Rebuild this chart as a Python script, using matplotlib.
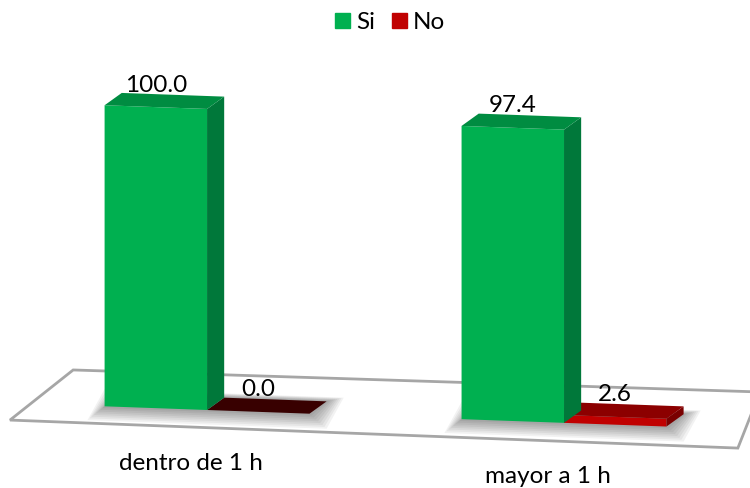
import matplotlib
matplotlib.use('Agg')
import matplotlib.pyplot as plt
import matplotlib.transforms as mtransforms
from matplotlib.patches import Polygon, Patch
import numpy as np

# datos del grafico
categorias = ['dentro de 1 h', 'mayor a 1 h']
series = ['Si', 'No']
si = [100.0, 97.4]
no = [0.0, 2.6]

plt.rcParams['font.family'] = ['Lato', 'DejaVu Sans']

fig = plt.figure(figsize=(7.5, 4.88), dpi=100)
ax = fig.add_axes([0, 0, 1, 1])
ax.axis('off')

# inclinacion del suelo (perspectiva aproximada)
pend = 0.036
corte = mtransforms.Affine2D(np.array([[1, 0, 0], [-pend, 1, pend * 375], [0, 0, 1]]))
tr = ax.transData + corte

ancho = 0.287   # ancho de cada barra
dx = 0.048      # profundidad en x
dv = 4.3        # profundidad en y

colores = {
    'Si': ('#00B050', '#00783A', '#008C41'),
    'No': ('#C00000', '#7A0000', '#8C0000'),
}

# suelo
suelo = Polygon([(-0.375, 11.7), (-0.552, -5.7), (1.487, -6.3), (1.549, 12.6)],
                closed=True, facecolor='white', edgecolor='#a6a6a6', lw=2,
                transform=tr, zorder=1)
ax.add_patch(suelo)

# sombras
for c in range(len(categorias)):
    xl, xr = c - ancho, c + ancho
    for k in range(8, 0, -1):
        ex = 0.006 * k
        ev = 0.6 * k
        sombra = Polygon([(xl - ex, -ev), (xl + dx - ex, dv + ev * 0.3),
                          (xr + dx + ex, dv + ev * 0.3), (xr + ex, -ev)],
                         closed=True, facecolor='black', edgecolor='none',
                         alpha=0.05, transform=tr, zorder=2)
        ax.add_patch(sombra)


def barra(x0, h, serie):
    frente, lado, arriba = colores[serie]
    if h == 0:
        arriba = '#380000'
    ax.bar(x0, h, width=ancho, align='edge', color=frente, transform=tr, zorder=3)
    ax.add_patch(Polygon([(x0 + ancho, 0), (x0 + ancho + dx, dv),
                          (x0 + ancho + dx, h + dv), (x0 + ancho, h)],
                         closed=True, facecolor=lado, edgecolor='none',
                         transform=tr, zorder=3))
    ax.add_patch(Polygon([(x0, h), (x0 + dx, h + dv),
                          (x0 + ancho + dx, h + dv), (x0 + ancho, h)],
                         closed=True, facecolor=arriba, edgecolor='none',
                         transform=tr, zorder=3))
    ax.text(x0 + ancho / 2, h + dv - 0.5, f'{h:.1f}', ha='center', va='bottom',
            fontsize=17.5, transform=tr, zorder=5)


for i, cat in enumerate(categorias):
    barra(i, no[i], 'No')
    barra(i - ancho, si[i], 'Si')
    ax.text(i - 0.045, -18, cat, ha='center', va='center', fontsize=17.5,
            transform=tr, zorder=5)

ax.set_xlim(-0.580, 1.521)
ax.set_ylim(-23.9, 138.2)

fig.legend(handles=[Patch(color=colores[s][0], label=s) for s in series],
           loc='upper center', bbox_to_anchor=(0.52, 1.02), ncol=2, frameon=False,
           fontsize=17.5, handlelength=0.62, handleheight=0.62,
           columnspacing=0.7, handletextpad=0.25)

fig.savefig('out.png', dpi=100)
